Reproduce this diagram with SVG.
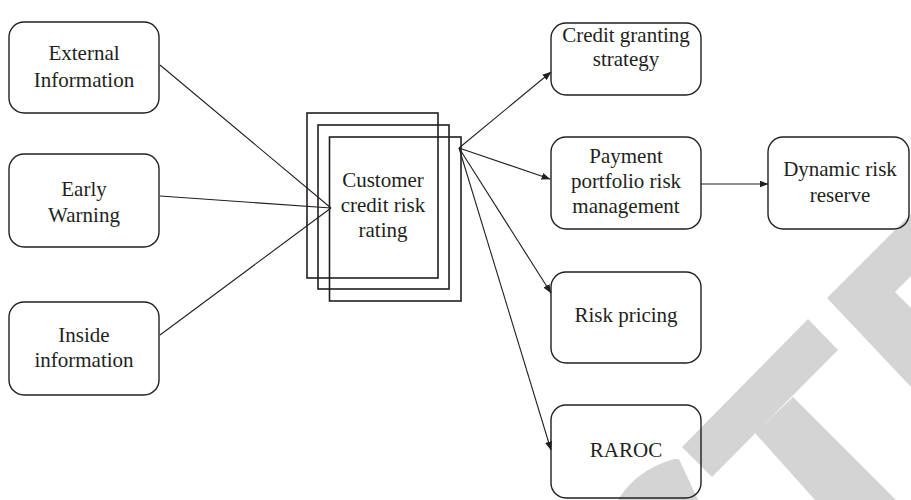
<svg xmlns="http://www.w3.org/2000/svg" width="911" height="500" viewBox="0 0 911 500">
  <style>
    .box { fill: none; stroke: #231f20; stroke-width: 1.4; }
    .sheet { fill: none; stroke: #231f20; stroke-width: 1.6; }
    .lbl { font-family: "Liberation Serif", Tinos, "Times New Roman", "DejaVu Serif", serif; font-size: 21px; fill: #231f20; text-anchor: middle; }
    .wire { fill: none; stroke: #231f20; stroke-width: 1.1; }
    .mark { fill: #d4d4d4; stroke: none; }
  </style>
  <defs>
    <marker id="arrow" markerUnits="userSpaceOnUse" markerWidth="9" markerHeight="7" refX="8.5" refY="3.5" orient="auto">
      <path d="M0,0 L9,3.5 L0,7 Z" fill="#231f20"/>
    </marker>
  </defs>

  <rect width="911" height="500" fill="#ffffff"/>

  <!-- background stamp -->
  <g id="stamp">
    <polygon class="mark" points="808,319 838,350 712,477 682,447"/>
    <polygon class="mark" points="793,397 911,515 911,500 815,500 755,433"/>
    <polygon class="mark" points="827,298 911,214 911,276 895,292 911,308 911,387"/>
    <path class="mark" d="M618,500 Q636,470 674,459 L679,459 L698,500 Z"/>
  </g>

  <!-- connectors -->
  <g id="connectors">
    <line class="wire" x1="160" y1="65" x2="331" y2="208"/>
    <line class="wire" x1="160" y1="196" x2="331" y2="208"/>
    <line class="wire" x1="160" y1="335" x2="331" y2="208"/>
    <line class="wire" x1="459" y1="148" x2="551" y2="72" marker-end="url(#arrow)"/>
    <line class="wire" x1="459" y1="148" x2="550" y2="179" marker-end="url(#arrow)"/>
    <line class="wire" x1="459" y1="148" x2="551" y2="293" marker-end="url(#arrow)"/>
    <line class="wire" x1="459" y1="148" x2="551" y2="450" marker-end="url(#arrow)"/>
    <line class="wire" x1="701" y1="184" x2="768" y2="184" marker-end="url(#arrow)"/>
  </g>

  <!-- inputs -->
  <g id="external-information">
    <rect class="box" x="9" y="22" width="150" height="91" rx="15"/>
    <text class="lbl" x="84" y="60">External</text>
    <text class="lbl" x="84" y="87">Information</text>
  </g>
  <g id="early-warning">
    <rect class="box" x="9" y="154" width="150" height="93" rx="15"/>
    <text class="lbl" x="84" y="196">Early</text>
    <text class="lbl" x="84" y="222">Warning</text>
  </g>
  <g id="inside-information">
    <rect class="box" x="9" y="302" width="150" height="93" rx="15"/>
    <text class="lbl" x="84" y="342">Inside</text>
    <text class="lbl" x="84" y="367">information</text>
  </g>

  <!-- stacked rating sheets -->
  <g id="customer-credit-risk-rating">
    <rect class="sheet" x="307" y="113" width="131" height="165"/>
    <rect class="sheet" x="318" y="125" width="131" height="164"/>
    <rect class="sheet" x="329.5" y="137" width="131.5" height="164"/>
    <text class="lbl" x="383" y="187">Customer</text>
    <text class="lbl" x="383" y="212">credit risk</text>
    <text class="lbl" x="383" y="237">rating</text>
  </g>

  <!-- outputs -->
  <g id="credit-granting-strategy">
    <rect class="box" x="551" y="23" width="150" height="72" rx="15"/>
    <text class="lbl" x="626" y="42">Credit granting</text>
    <text class="lbl" x="626" y="66">strategy</text>
  </g>
  <g id="payment-portfolio-risk-management">
    <rect class="box" x="551" y="137" width="150" height="92" rx="15"/>
    <text class="lbl" x="626" y="163">Payment</text>
    <text class="lbl" x="626" y="188">portfolio risk</text>
    <text class="lbl" x="626" y="213">management</text>
  </g>
  <g id="dynamic-risk-reserve">
    <rect class="box" x="768" y="137" width="141" height="92" rx="15"/>
    <text class="lbl" x="840" y="176">Dynamic risk</text>
    <text class="lbl" x="840" y="202">reserve</text>
  </g>
  <g id="risk-pricing">
    <rect class="box" x="551" y="272" width="150" height="91" rx="15"/>
    <text class="lbl" x="626" y="322">Risk pricing</text>
  </g>
  <g id="raroc">
    <rect class="box" x="551" y="405" width="150" height="93" rx="15"/>
    <text class="lbl" x="626" y="457">RAROC</text>
  </g>
</svg>
